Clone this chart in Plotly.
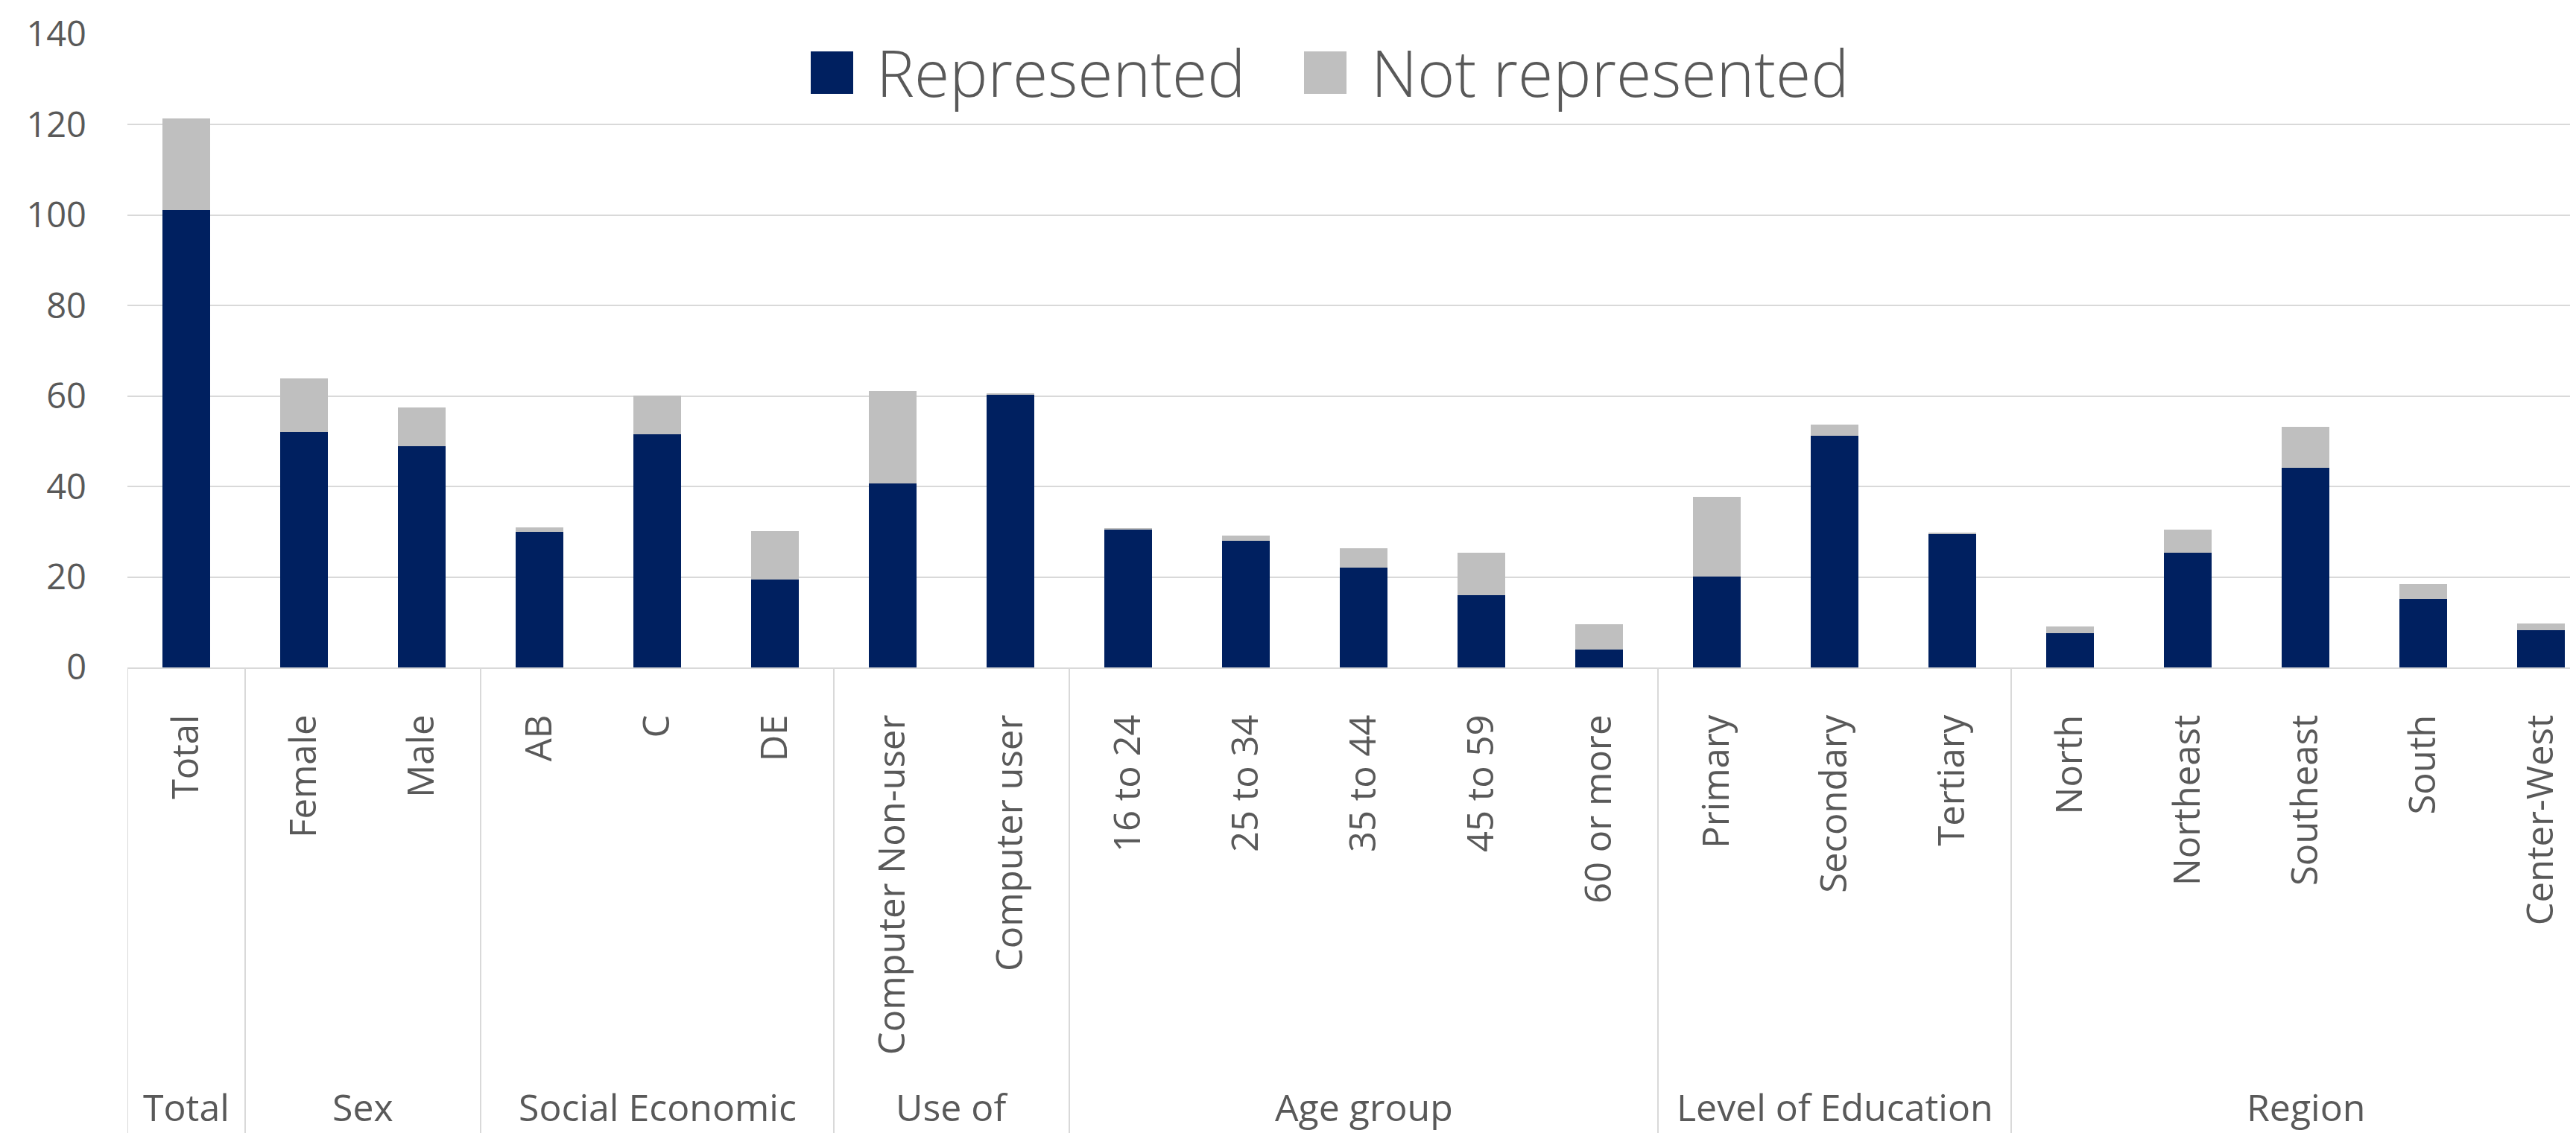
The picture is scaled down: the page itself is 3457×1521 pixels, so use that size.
import plotly.graph_objects as go

# ---------------- data ----------------
categories = ["Total", "Female", "Male", "AB", "C", "DE",
              "Computer Non-user", "Computer user",
              "16 to 24", "25 to 34", "35 to 44", "45 to 59", "60 or more",
              "Primary", "Secondary", "Tertiary",
              "North", "Northeast", "Southeast", "South", "Center-West"]
represented = [101.1, 52.0, 48.9, 30.0, 51.5, 19.4,
               40.7, 60.3,
               30.6, 28.0, 22.1, 15.9, 4.0,
               20.1, 51.2, 29.5,
               7.5, 25.3, 44.2, 15.1, 8.2]
not_represented = [20.3, 11.9, 8.6, 1.0, 8.6, 10.7,
                   20.4, 0.2,
                   0.1, 1.1, 4.2, 9.5, 5.6,
                   17.6, 2.5, 0.2,
                   1.5, 5.2, 9.0, 3.4, 1.5]
group_names = ["Total", "Sex", "Social Economic", "Use of", "Age group",
               "Level of Education", "Region"]
group_sizes = [1, 2, 3, 2, 5, 3, 5]
series_names = ["Represented", "Not represented"]
series_colors = ["#002060", "#bfbfbf"]

# ---------------- layout constants (pixels) ----------------
W, H = 3457, 1521
ML, MR, MT = 163, 0, 38
AXIS_Y = 888
MB = H - AXIS_Y
PLOT_H = AXIS_Y - MT
PLOT_W = W - ML - MR
CAT_W = 158.0                      # pixel width of one category slot
X_END = -0.5 + PLOT_W / CAT_W      # plot area is cut at the right image edge
TEXT = "#595959"
GRID = "#d9d9d9"
FONT = "Open Sans"

fig = go.Figure()
fig.add_trace(go.Bar(x=categories, y=represented, name=series_names[0],
                     marker=dict(color=series_colors[0], line=dict(width=0)),
                     showlegend=False))
fig.add_trace(go.Bar(x=categories, y=not_represented, name=series_names[1],
                     marker=dict(color=series_colors[1], line=dict(width=0)),
                     showlegend=False))

def py(pix):
    return 1 - (pix - MT) / PLOT_H

def px(pix):
    return (pix - ML) / PLOT_W

shapes = []
annotations = []
# group dividers and labels
start = 0
bounds = [0]
for g, n in zip(group_names, group_sizes):
    annotations.append(dict(x=start + (n - 1) / 2, y=py(1478), xref="x", yref="paper",
                            text=g, showarrow=False, xanchor="center", yanchor="middle",
                            font=dict(family=FONT, size=50, color=TEXT)))
    start += n
    bounds.append(start)
for b in bounds:
    shapes.append(dict(type="line", xref="x", yref="paper", x0=b - 0.5, x1=b - 0.5,
                       y0=0, y1=py(H), line=dict(color=GRID, width=2)))

# manual legend (large square swatches like the original)
leg_items = [(1080, 1166), (1742, 1830)]
for (sx, tx), name, col in zip(leg_items, series_names, series_colors):
    shapes.append(dict(type="rect", xref="paper", yref="paper",
                       x0=px(sx), x1=px(sx + 57), y0=py(118), y1=py(61),
                       fillcolor=col, line=dict(width=0)))
    annotations.append(dict(x=px(tx), y=py(88), xref="paper", yref="paper",
                            text=name, showarrow=False, xanchor="left", yanchor="middle",
                            font=dict(family=FONT, size=86, color=TEXT, weight=300)))

fig.update_layout(
    width=W, height=H,
    barmode="stack", bargap=0.6,
    plot_bgcolor="white", paper_bgcolor="white",
    margin=dict(l=ML, r=MR, t=MT, b=MB, autoexpand=False),
    font=dict(family=FONT, color=TEXT),
    shapes=shapes, annotations=annotations,
    showlegend=False,
    xaxis=dict(type="category", range=[-0.5, X_END], tickangle=-90, showgrid=False,
               showline=True, linecolor=GRID, linewidth=2,
               ticks="", ticklabelstandoff=42,
               tickfont=dict(family=FONT, size=49, color=TEXT),
               automargin=False, fixedrange=True),
    yaxis=dict(range=[0, 140], dtick=20, showgrid=True, gridcolor=GRID, gridwidth=2,
               zeroline=False, showline=False, ticks="", ticklabelstandoff=54,
               tickfont=dict(family=FONT, size=47, color=TEXT),
               automargin=False, fixedrange=True),
)

fig.write_html("out.html")
